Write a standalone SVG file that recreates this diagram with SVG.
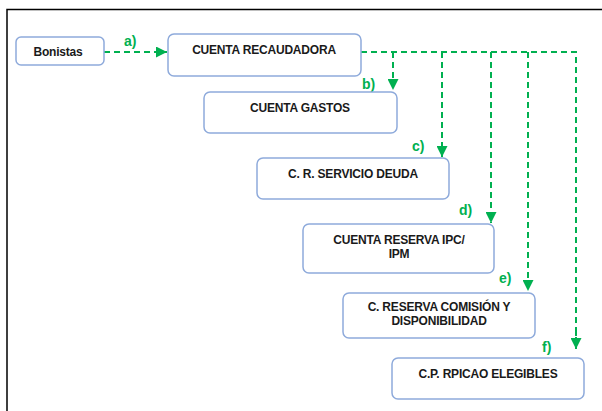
<svg xmlns="http://www.w3.org/2000/svg" width="602" height="411" viewBox="0 0 602 411">
<defs>
<marker id="ah" viewBox="0 0 10 10" refX="10" refY="5" markerWidth="11" markerHeight="11" markerUnits="userSpaceOnUse" orient="auto">
<path d="M0,0 L10,5 L0,10 Z" fill="#00B050"/>
</marker>
<style>
.box{fill:#fff;stroke:#8EAADB;stroke-width:1.5}
.t{font-family:"Liberation Sans",Arial,sans-serif;font-weight:bold;font-size:12px;letter-spacing:-0.2px;fill:#1a1a1a;text-anchor:middle}
.c{fill:none;stroke:#00B050;stroke-width:2;stroke-dasharray:6 4}
.l{font-family:"Liberation Sans",Arial,sans-serif;font-weight:bold;font-size:14px;fill:#00B050}
</style>
</defs>
<rect width="602" height="411" fill="#fff"/>
<path d="M7,411 V9.5 H602" fill="none" stroke="#000" stroke-width="1.5"/>
<g id="connectors">
<path class="c" d="M104,52 H167" marker-end="url(#ah)"/>
<path class="c" d="M361,52 H576 V349"/>
<path class="c" d="M393,52 V90" marker-end="url(#ah)"/>
<path class="c" d="M442,52 V157" marker-end="url(#ah)"/>
<path class="c" d="M491,52 V223" marker-end="url(#ah)"/>
<path class="c" d="M528,52 V291" marker-end="url(#ah)"/>
<path class="c" d="M576,330 V349" marker-end="url(#ah)"/>
<text class="l" x="124" y="46">a)</text>
<text class="l" x="362" y="89">b)</text>
<text class="l" x="412" y="151">c)</text>
<text class="l" x="459" y="215">d)</text>
<text class="l" x="499" y="283">e)</text>
<text class="l" x="542" y="352">f)</text>
</g>
<g id="bonistas"><rect class="box" x="16" y="37" width="88" height="28" rx="5"/><text class="t" x="58" y="56">Bonistas</text></g>
<g id="recaudadora"><rect class="box" x="168" y="34" width="193" height="42" rx="6"/><text class="t" x="264" y="54">CUENTA RECAUDADORA</text></g>
<g id="gastos"><rect class="box" x="204" y="92" width="193" height="41" rx="6"/><text class="t" x="300" y="112">CUENTA GASTOS</text></g>
<g id="servicio"><rect class="box" x="257" y="158" width="192" height="41" rx="6"/><text class="t" x="353" y="178">C. R. SERVICIO DEUDA</text></g>
<g id="ipc"><rect class="box" x="303" y="224" width="191" height="49" rx="6"/><text class="t" x="399" y="244">CUENTA RESERVA IPC/</text><text class="t" x="399" y="258">IPM</text></g>
<g id="comision"><rect class="box" x="343" y="293" width="192" height="45" rx="6"/><text class="t" x="439" y="311">C. RESERVA COMISIÓN Y</text><text class="t" x="439" y="325">DISPONIBILIDAD</text></g>
<g id="rpicao"><rect class="box" x="392" y="358" width="192" height="41" rx="6"/><text class="t" x="488" y="378">C.P. RPICAO ELEGIBLES</text></g>
</svg>
